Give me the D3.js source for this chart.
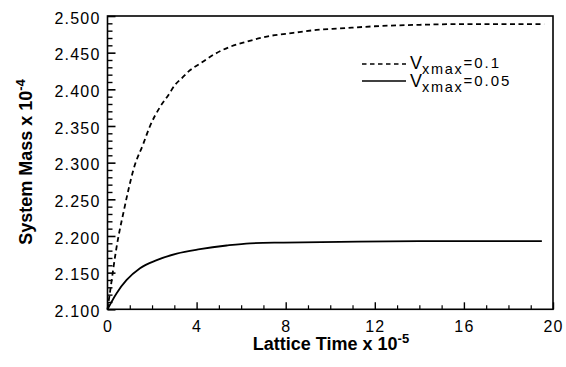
<!DOCTYPE html>
<html>
<head>
<meta charset="utf-8">
<script src="https://cdn.jsdelivr.net/npm/d3@7"></script>
<style>
  html, body { margin: 0; padding: 0; background: #fff; }
  svg { display: block; }
  text { font-family: "Liberation Sans", Arial, Helvetica, sans-serif; fill: #000; }
</style>
</head>
<body>
<svg id="chart" width="566" height="367"></svg>
<script>
// ---- data ----
const timeDashed = [0, 0.19, 0.34, 0.49, 0.71, 0.94, 1.16, 1.61, 1.91, 2.36, 2.73, 3.03, 3.33, 3.70, 4.15, 4.75, 5.50, 6.25, 7.15, 8.34, 9.39, 10.44, 12, 14, 16, 19.6];
const massDashed = [2.100, 2.140, 2.172, 2.199, 2.231, 2.263, 2.290, 2.326, 2.350, 2.376, 2.392, 2.406, 2.415, 2.426, 2.435, 2.447, 2.458, 2.465, 2.472, 2.477, 2.481, 2.483, 2.486, 2.488, 2.489, 2.489];
const timeSolid = [0, 0.41, 0.86, 1.46, 2.21, 3.11, 4.15, 5.35, 6.40, 7.90, 10.44, 14, 19.5];
const massSolid = [2.100, 2.122, 2.140, 2.156, 2.167, 2.176, 2.182, 2.187, 2.190, 2.191, 2.192, 2.193, 2.193];
const xTicks = [0, 4, 8, 12, 16, 20];
const yTicks = [2.100, 2.150, 2.200, 2.250, 2.300, 2.350, 2.400, 2.450, 2.500];
const seriesNames = ["0.1", "0.05"];

// ---- layout ----
const L = 107.5, R = 553, T = 16, B = 309.3;
const svg = d3.select("#chart");
const x = d3.scaleLinear().domain([0, 20]).range([L, R]);
const y = d3.scaleLinear().domain([2.1, 2.5]).range([B, T]);

// minor ticks
const xMinor = d3.range(0, 21, 1).filter(v => !xTicks.includes(v));
const yMinor = d3.range(0, 41).map(i => +(2.1 + i * 0.01).toFixed(3)).filter(v => !yTicks.some(t => Math.abs(t - v) < 1e-6));

const g = svg.append("g");

// curves
const line = d3.line().x(d => x(d[0])).y(d => y(d[1])).curve(d3.curveMonotoneX);
g.append("path")
  .datum(timeDashed.map((t, i) => [t, massDashed[i]]))
  .attr("d", line).attr("fill", "none").attr("stroke", "#000")
  .attr("stroke-width", 1.8).attr("stroke-dasharray", "5,3.5");
g.append("path")
  .datum(timeSolid.map((t, i) => [t, massSolid[i]]))
  .attr("d", line).attr("fill", "none").attr("stroke", "#000")
  .attr("stroke-width", 1.8);

// y axis (ticks inward)
const yAxis = d3.axisLeft(y).tickValues(yTicks).tickSize(-8).tickPadding(7).tickFormat(d3.format(".3f"));
const ya = svg.append("g").attr("transform", `translate(${L},0)`).call(yAxis);
ya.select(".domain").remove();
ya.selectAll(".tick line").attr("stroke-width", 1.6);
ya.selectAll(".tick text").attr("font-size", 16).attr("letter-spacing", "1.2px").attr("dy", "0.45em")
  .attr("font-family", "Liberation Sans, Arial, sans-serif");
const yAxisMinor = d3.axisLeft(y).tickValues(yMinor).tickSize(-5).tickFormat("");
const ym = svg.append("g").attr("transform", `translate(${L},0)`).call(yAxisMinor);
ym.select(".domain").remove();
ym.selectAll(".tick line").attr("stroke-width", 1.4);

// x axis (ticks inward)
const xAxis = d3.axisBottom(x).tickValues(xTicks).tickSize(-7).tickPadding(14).tickFormat(d3.format("d"));
const xa = svg.append("g").attr("transform", `translate(0,${B})`).call(xAxis);
xa.select(".domain").remove();
xa.selectAll(".tick line").attr("stroke-width", 1.4);
xa.selectAll(".tick text").attr("font-size", 16).attr("letter-spacing", "1.2px").attr("dy", "0.53em")
  .attr("font-family", "Liberation Sans, Arial, sans-serif");
const xAxisMinor = d3.axisBottom(x).tickValues(xMinor).tickSize(-4).tickFormat("");
const xm = svg.append("g").attr("transform", `translate(0,${B})`).call(xAxisMinor);
xm.select(".domain").remove();
xm.selectAll(".tick line").attr("stroke-width", 1.2);

// frame
svg.append("rect").attr("x", L).attr("y", T).attr("width", R - L).attr("height", B - T)
  .attr("fill", "none").attr("stroke", "#000").attr("stroke-width", 1.6);

// axis titles
const xt = svg.append("text").attr("x", 331).attr("y", 350).attr("text-anchor", "middle")
  .attr("font-size", 18).attr("font-weight", "bold");
xt.append("tspan").text("Lattice Time x 10");
xt.append("tspan").attr("dy", -7).attr("font-size", 13).text("-5");

const yt = svg.append("text").attr("transform", "translate(31.5,162) rotate(-90)").attr("text-anchor", "middle")
  .attr("font-size", 18).attr("font-weight", "bold");
yt.append("tspan").text("System Mass x 10");
yt.append("tspan").attr("dy", -7).attr("font-size", 13).text("-4");

// legend
const legLineY = [64, 81];
const legTextY = [68.5, 87.3];
const legDash = ["4.5,3.5", null];
seriesNames.forEach((name, i) => {
  const ln = svg.append("line").attr("x1", 362).attr("x2", 406).attr("y1", legLineY[i]).attr("y2", legLineY[i])
    .attr("stroke", "#000").attr("stroke-width", 1.3);
  if (legDash[i]) ln.attr("stroke-dasharray", legDash[i]);
  const t = svg.append("text").attr("x", 410).attr("y", legTextY[i]).attr("font-size", 18);
  t.append("tspan").text("V");
  t.append("tspan").attr("dy", 5).attr("font-size", 14.5).attr("letter-spacing", "1.7px").text("xmax");
  t.append("tspan").attr("dy", -6).attr("font-size", 15).attr("letter-spacing", "2px").text("=" + name);
});
</script>
</body>
</html>
